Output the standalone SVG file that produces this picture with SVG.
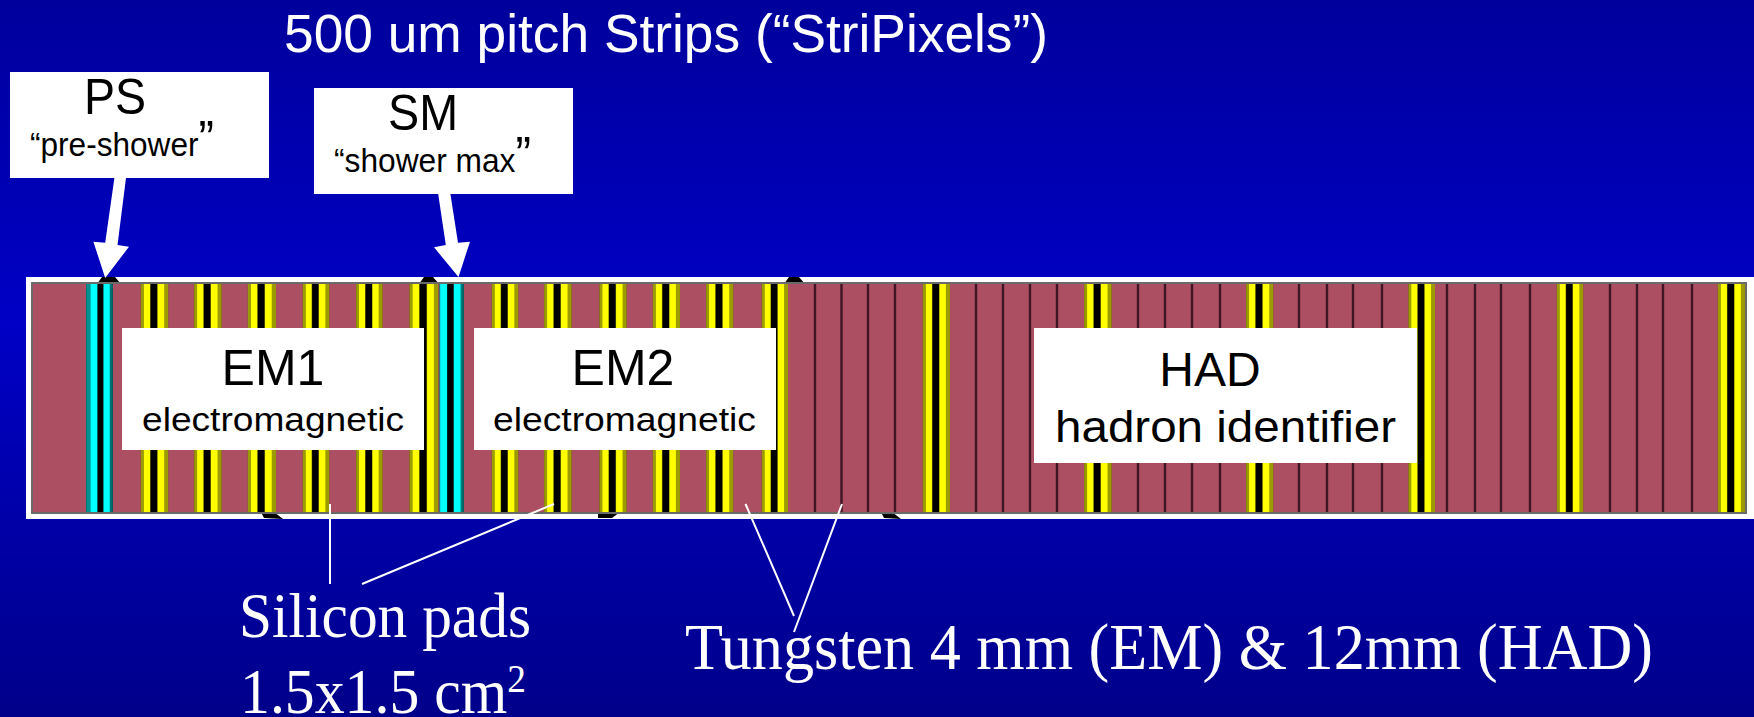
<svg xmlns="http://www.w3.org/2000/svg" width="1754" height="717" viewBox="0 0 1754 717">
<style>
.s{font-family:"Liberation Sans",Arial,sans-serif;fill:#000}
.w{font-family:"Liberation Sans",Arial,sans-serif;fill:#fff}
.t{font-family:"Liberation Serif","Times New Roman",serif;fill:#fff}
.box{fill:#fff}
.si{fill:url(#si)}
.c1{fill:url(#cy1)}
.c2{fill:url(#cy2)}
.w4{stroke:#3f1626;stroke-width:2.4;fill:none}
.ld{stroke:#fff;stroke-width:2;fill:none}
.ar{fill:#fff}
.m{text-anchor:middle}
</style>
<defs>
<linearGradient id="bg" x1="0" y1="0" x2="0" y2="1">
<stop offset="0" stop-color="#00009c"/><stop offset="0.45" stop-color="#0000c6"/><stop offset="1" stop-color="#00008a"/>
</linearGradient>
<linearGradient id="si">
<stop offset="0" stop-color="#6c6c00"/><stop offset="0.03" stop-color="#9c9c00"/><stop offset="0.1" stop-color="#9c9c00"/><stop offset="0.13" stop-color="#ffff00"/><stop offset="0.32" stop-color="#ffff00"/><stop offset="0.37" stop-color="#000"/><stop offset="0.58" stop-color="#000"/><stop offset="0.63" stop-color="#ffff00"/><stop offset="0.83" stop-color="#ffff00"/><stop offset="0.87" stop-color="#9c9c00"/><stop offset="0.98" stop-color="#9c9c00"/><stop offset="1" stop-color="#6c6c00"/>
</linearGradient>
<linearGradient id="cy1">
<stop offset="0" stop-color="#006a6a"/><stop offset="0.05" stop-color="#009090"/><stop offset="0.15" stop-color="#009090"/><stop offset="0.2" stop-color="#00ffff"/><stop offset="0.39" stop-color="#00ffff"/><stop offset="0.45" stop-color="#000"/><stop offset="0.62" stop-color="#000"/><stop offset="0.67" stop-color="#00ffff"/><stop offset="0.86" stop-color="#00ffff"/><stop offset="0.9" stop-color="#007878"/><stop offset="1" stop-color="#005c5c"/>
</linearGradient>
<linearGradient id="cy2">
<stop offset="0" stop-color="#006a6a"/><stop offset="0.06" stop-color="#00ffff"/><stop offset="0.29" stop-color="#00ffff"/><stop offset="0.34" stop-color="#000"/><stop offset="0.56" stop-color="#000"/><stop offset="0.61" stop-color="#00ffff"/><stop offset="0.84" stop-color="#00ffff"/><stop offset="0.88" stop-color="#008080"/><stop offset="1" stop-color="#005c5c"/>
</linearGradient>
<filter id="soft" x="-1%" y="-5%" width="102%" height="110%"><feGaussianBlur stdDeviation="0.6"/></filter>
</defs>
<rect id="background" width="1754" height="717" fill="url(#bg)"/>

<g id="detector">
<path d="M26 277H1754V519H26Z" fill="#fff"/>
<g filter="url(#soft)">
<path d="M97 284L102 277H115L121 284ZM419 284L424 277H433L439 284ZM784 284L789 277H799L805 284Z" fill="#000"/>
<path d="M261 512L264 518L283 519L274 512ZM598 512V518H612L620 512ZM881 512L884 518L901 519L892 512Z" fill="#000"/>
<rect x="32" y="283" width="1714" height="230" fill="#ac5063" stroke="#6a6a6a" stroke-width="2"/>
<g id="tungsten-gaps">
<path class="w4" d="M815 284V512M841.5 284V512M868 284V512M895 284V512M976 284V512M1003 284V512M1030 284V512M1057 284V512M1138 284V512M1165 284V512M1192 284V512M1220 284V512M1299 284V512M1327 284V512M1353 284V512M1382 284V512M1447 284V512M1475 284V512M1501 284V512M1530 284V512M1610 284V512M1637 284V512M1663 284V512M1692 284V512"/>
</g>
<g id="silicon-pad-layers">
<rect class="si" x="140.7" y="284" width="27.6" height="228"/>
<rect class="si" x="194" y="284" width="27.7" height="228"/>
<rect class="si" x="247.7" y="284" width="28.3" height="228"/>
<rect class="si" x="302.7" y="284" width="26.6" height="228"/>
<rect class="si" x="356" y="284" width="26.7" height="228"/>
<rect class="si" x="409.3" y="284" width="29" height="228"/>
<rect class="si" x="491.7" y="284" width="26.6" height="228"/>
<rect class="si" x="544" y="284" width="27.7" height="228"/>
<rect class="si" x="599.3" y="284" width="27.4" height="228"/>
<rect class="si" x="652.7" y="284" width="27.3" height="228"/>
<rect class="si" x="706" y="284" width="27.3" height="228"/>
<rect class="si" x="761.7" y="284" width="26.3" height="228"/>
<rect class="si" x="922.7" y="284" width="27.3" height="228"/>
<rect class="si" x="1084" y="284" width="27.7" height="228"/>
<rect class="si" x="1246" y="284" width="27.3" height="228"/>
<rect class="si" x="1408.3" y="284" width="26.7" height="228"/>
<rect class="si" x="1556.7" y="284" width="26.6" height="228"/>
<rect class="si" x="1717.7" y="284" width="27.3" height="228"/>
</g>
<g id="strip-layers">
<rect class="c1" x="86" y="284" width="27" height="228"/>
<rect class="c2" x="439.3" y="284" width="24.7" height="228"/>
</g>
</g>
</g>

<g id="connectors">
<path class="ld" d="M330 504V584M554 504L362 584M745.5 504L794 616M842 504L794 632"/>
<path class="ar" d="M114.4 178H126L117.5 245L129 246.7L105.2 278L93.4 241.7L105.2 242.7Z"/>
<path class="ar" d="M438.2 194H450.4L458 242.7L470 241.7L458.5 277L434 247.3L445.8 245Z"/>
</g>

<text id="title" class="w" x="284" y="52" font-size="54" textLength="764" lengthAdjust="spacingAndGlyphs">500 um pitch Strips (“StriPixels”)</text>

<g id="node-ps">
<rect class="box" x="10" y="72" width="259" height="106"/>
<text class="s" x="84" y="114" font-size="50" textLength="62" lengthAdjust="spacingAndGlyphs">PS</text>
<text class="s" x="30" y="156" font-size="34" textLength="184" lengthAdjust="spacingAndGlyphs">“pre-shower<tspan font-size="50">”</tspan></text>
</g>
<g id="node-sm">
<rect class="box" x="314" y="88" width="259" height="106"/>
<text class="s" x="388" y="130" font-size="50" textLength="70" lengthAdjust="spacingAndGlyphs">SM</text>
<text class="s" x="334" y="172" font-size="34" textLength="197" lengthAdjust="spacingAndGlyphs">“shower max<tspan font-size="50">”</tspan></text>
</g>
<g id="node-em1">
<rect class="box" x="122" y="328" width="302" height="122"/>
<text class="s m" x="273" y="385" font-size="50">EM1</text>
<text class="s" x="142" y="431" font-size="34" textLength="262" lengthAdjust="spacingAndGlyphs">electromagnetic</text>
</g>
<g id="node-em2">
<rect class="box" x="474" y="328" width="302" height="122"/>
<text class="s m" x="623" y="385" font-size="50">EM2</text>
<text class="s" x="493" y="431" font-size="34" textLength="263" lengthAdjust="spacingAndGlyphs">electromagnetic</text>
</g>
<g id="node-had">
<rect class="box" x="1034" y="328" width="383" height="135"/>
<text class="s m" x="1210" y="386" font-size="48">HAD</text>
<text class="s" x="1055" y="442" font-size="44" textLength="341" lengthAdjust="spacingAndGlyphs">hadron identifier</text>
</g>

<g id="label-silicon">
<text class="t" x="239" y="637" font-size="64" textLength="292" lengthAdjust="spacingAndGlyphs">Silicon pads</text>
<text class="t" x="240" y="713" font-size="64" textLength="286" lengthAdjust="spacingAndGlyphs">1.5x1.5 cm<tspan dy="-21" font-size="40">2</tspan></text>
</g>
<text id="label-tungsten" class="t" x="685" y="669" font-size="66" textLength="968" lengthAdjust="spacingAndGlyphs">Tungsten 4 mm (EM) &amp; 12mm (HAD)</text>
</svg>
